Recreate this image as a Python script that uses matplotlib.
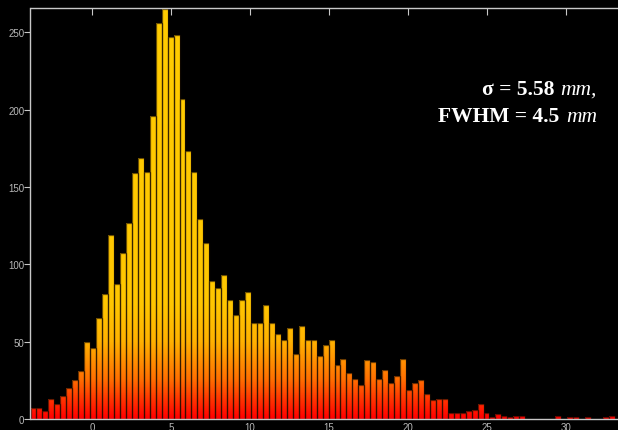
import numpy as np
import matplotlib
matplotlib.use("Agg")
import matplotlib.pyplot as plt
from matplotlib.path import Path
from matplotlib.patches import PathPatch
from matplotlib.colors import LinearSegmentedColormap
from matplotlib.offsetbox import TextArea, HPacker, VPacker, AnchoredOffsetbox

# ---- data (histogram counts) ----
bin_left = -3.916
bin_width = 0.3777
counts = [7, 7, 5, 13, 10, 15, 20, 25, 31, 50,
          46, 65, 81, 119, 87, 107, 127, 159, 169, 160,
          196, 256, 265, 247, 248, 207, 173, 160, 129, 114,
          89, 85, 93, 77, 67, 77, 82, 62, 62, 74,
          62, 55, 51, 59, 42, 60, 51, 51, 41, 48,
          51, 35, 39, 30, 26, 22, 38, 37, 26, 32,
          23, 28, 39, 19, 23, 25, 16, 12, 13, 13,
          4, 4, 4, 5, 6, 10, 4, 1, 3, 2,
          1, 2, 2, 0, 0, 0, 0, 0, 2, 0,
          1, 1, 0, 1, 0, 0, 1, 2]
xticks = [0, 5, 10, 15, 20, 25, 30]
yticks = [0, 50, 100, 150, 200, 250]
line1_bold, line1_ital = "σ = 5.58", "mm,"
line2_bold, line2_ital = "FWHM = 4.5", "mm"

W, H = 618, 431
fig = plt.figure(figsize=(W / 100, H / 100), dpi=100, facecolor="black")
ax = fig.add_axes([30.5 / W, 11 / H, (W - 30.5) / W, 411 / H], facecolor="black")

xmin, xmax = -3.916, 33.31
ymin, ymax = 0, 265.7
ax.set_xlim(xmin, xmax)
ax.set_ylim(ymin, ymax)

lefts = bin_left + bin_width * np.arange(len(counts))
heights = np.array(counts, dtype=float)

# gradient (by absolute height) clipped to the bars
stops = [(0 / ymax, (1.0, 0.0, 0.0)),
         (12 / ymax, (1.0, 0.2, 0.0)),
         (25 / ymax, (1.0, 0.43, 0.0)),
         (50 / ymax, (1.0, 0.70, 0.0)),
         (75 / ymax, (1.0, 0.78, 0.0)),
         (1.0, (1.0, 0.80, 0.0))]
cmap = LinearSegmentedColormap.from_list("grad", stops)
grad = np.linspace(0, 1, 512).reshape(-1, 1)
im = ax.imshow(grad, cmap=cmap, aspect="auto", origin="lower",
               extent=(xmin, xmax, ymin, ymax), zorder=1, interpolation="bilinear")

rects = []
for l, h in zip(lefts, heights):
    if h > 0:
        rects.append(Path([(l, 0), (l + bin_width, 0), (l + bin_width, h), (l, h), (l, 0)],
                          [Path.MOVETO, Path.LINETO, Path.LINETO, Path.LINETO, Path.CLOSEPOLY]))
clip = PathPatch(Path.make_compound_path(*rects), transform=ax.transData,
                 facecolor="none", edgecolor="none")
ax.add_patch(clip)
im.set_clip_path(clip)

ax.bar(lefts, heights, width=bin_width, align="edge", fill=False,
       edgecolor=(0.1, 0.05, 0, 0.65), linewidth=0.9, zorder=2)

# axes styling
for s in ["left", "top", "bottom"]:
    ax.spines[s].set_color("#c8c8c8")
    ax.spines[s].set_linewidth(1.0)
    ax.spines[s].set_zorder(3)
ax.spines["right"].set_visible(False)

ax.set_xticks(xticks)
ax.set_yticks(yticks)
ax.tick_params(axis="x", which="both", bottom=False, top=True, labelbottom=True,
               direction="in", length=5, color="#c8c8c8", labelcolor="#b8b8b8",
               labelsize=7, pad=2)
ax.tick_params(axis="y", which="both", left=True, right=False, direction="out",
               length=4, color="#c8c8c8", labelcolor="#b8b8b8", labelsize=7, pad=0.5)
for lab in ax.get_xticklabels() + ax.get_yticklabels():
    lab.set_fontfamily("Liberation Sans")

# annotation text
fs = 15.5
bold = dict(color="white", fontfamily="Liberation Serif", fontweight="bold", fontsize=fs)
ital = dict(color="white", fontfamily="Liberation Serif", fontstyle="italic", fontsize=fs)
l1 = HPacker(children=[TextArea(line1_bold, textprops=bold), TextArea(line1_ital, textprops=ital)],
             sep=4.5, align="baseline", pad=0)
l2 = HPacker(children=[TextArea(line2_bold, textprops=bold), TextArea(line2_ital, textprops=ital)],
             sep=4.5, align="baseline", pad=0)
box = VPacker(children=[l1, l2], align="right", sep=5, pad=0)
anch = AnchoredOffsetbox(loc="upper right", child=box, pad=0, borderpad=0, frameon=False,
                         bbox_to_anchor=(597 / W, 1 - 80 / H), bbox_transform=fig.transFigure)
fig.add_artist(anch)

fig.savefig("out.png", dpi=100, facecolor="black")
